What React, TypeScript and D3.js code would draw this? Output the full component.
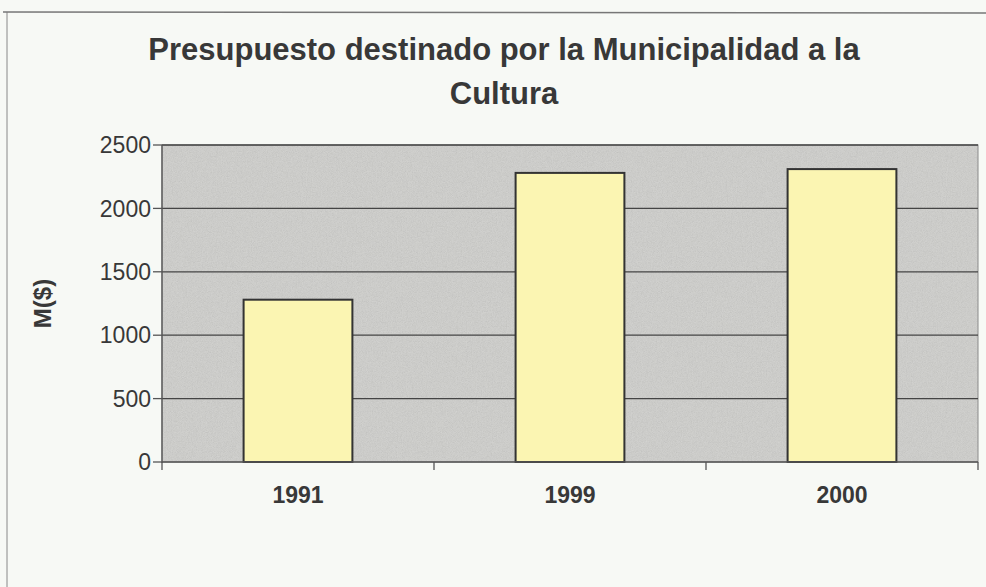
import React from "react";
import * as d3 from "d3";

const categories = ["1991", "1999", "2000"];
const values = [1280, 2280, 2310];
const yTicks = [0, 500, 1000, 1500, 2000, 2500];
const titleLines = ["Presupuesto destinado por la Municipalidad a la", "Cultura"];
const yLabel = "M($)";

export default function App() {
  const W = 986, H = 587;
  const left = 162, right = 978, top = 145, bottom = 462;
  const x = d3.scaleBand<string>().domain(categories).range([left, right]).paddingInner(0.6).paddingOuter(0.3);
  const xb = d3.scaleBand<string>().domain(categories).range([left, right]);
  const y = d3.scaleLinear().domain([0, 2500]).range([bottom, top]);
  const font = "'Liberation Sans', Arial, sans-serif";
  const text = "#383838";
  return (
    <div style={{ position: "fixed", left: 0, top: 0 }}>
      <svg width={W} height={H} style={{ display: "block" }}>
        <defs>
          <filter id="grain" x="0" y="0" width="100%" height="100%">
            <feTurbulence type="fractalNoise" baseFrequency="1.2" numOctaves="1" seed="3" />
            <feColorMatrix type="saturate" values="0" />
            <feComponentTransfer>
              <feFuncA type="linear" slope="0" intercept="0.18" />
            </feComponentTransfer>
          </filter>
        </defs>
        <rect x={0} y={0} width={W} height={H} fill="#f7f9f5" />
        <line x1={7} y1={12} x2={7} y2={H} stroke="#888" strokeWidth={1} />
        <line x1={3} y1={12} x2={W} y2={13} stroke="#777" strokeWidth={1.5} />
        {titleLines.map((t, i) => (
          <text key={i} x={504} y={60 + i * 44} textAnchor="middle" fontFamily={font} fontWeight="bold" fontSize={31} fill={text}>{t}</text>
        ))}
        <rect x={left} y={top} width={right - left} height={bottom - top} fill="#cfcfcc" />
        <rect x={left} y={top} width={right - left} height={bottom - top} filter="url(#grain)" />
        <rect x={left} y={top} width={right - left} height={bottom - top} fill="none" stroke="#8a8a8a" strokeWidth={1} />
        {yTicks.filter(t => t > 0).map(t => (
          <line key={t} x1={left} x2={right} y1={y(t)} y2={y(t)} stroke="#444" strokeWidth={1.3} />
        ))}
        {categories.map((c, i) => (
          <rect key={c} x={x(c)} y={y(values[i])} width={x.bandwidth()} height={bottom - y(values[i])} fill="#fbf5b2" stroke="#333" strokeWidth={2} />
        ))}
        <line x1={left} x2={left} y1={top} y2={bottom + 1} stroke="#555" strokeWidth={1.3} />
        <line x1={left} x2={right} y1={bottom} y2={bottom} stroke="#555" strokeWidth={1.3} />
        {yTicks.map(t => (
          <g key={t}>
            <line x1={left - 9} x2={left} y1={y(t)} y2={y(t)} stroke="#555" strokeWidth={1.3} />
            <text x={151} y={y(t)} dy="0.36em" textAnchor="end" fontFamily={font} fontSize={23} fill={text}>{t}</text>
          </g>
        ))}
        {[...categories.map(c => xb(c) as number), right].map((v, i) => (
          <line key={i} x1={v} x2={v} y1={bottom} y2={bottom + 8} stroke="#555" strokeWidth={1.3} />
        ))}
        {categories.map(c => (
          <text key={c} x={(xb(c) as number) + xb.bandwidth() / 2} y={495} dy="0.36em" textAnchor="middle" fontFamily={font} fontWeight="bold" fontSize={23} fill={text}>{c}</text>
        ))}
        <text transform={`translate(42,${(top + bottom) / 2}) rotate(-90)`} textAnchor="middle" dy="0.36em" fontFamily={font} fontWeight="bold" fontSize={24} fill={text}>{yLabel}</text>
      </svg>
    </div>
  );
}
